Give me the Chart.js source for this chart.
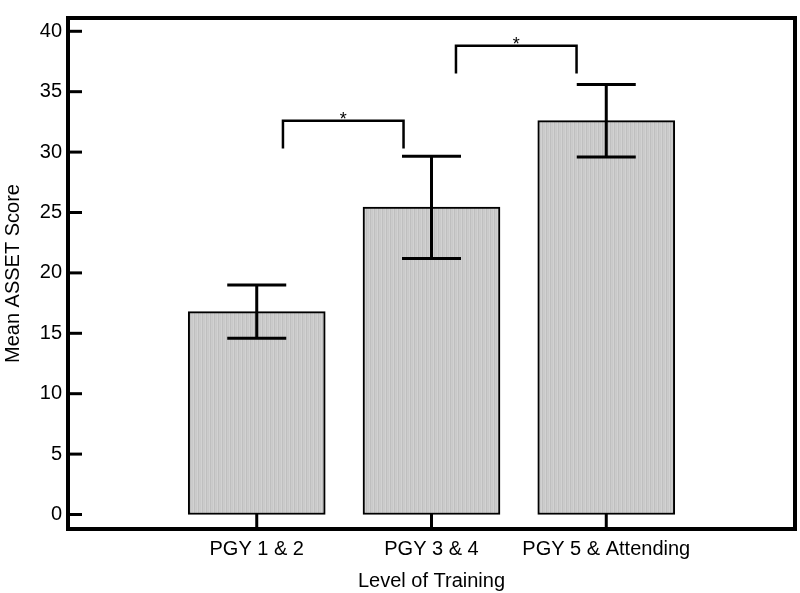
<!DOCTYPE html>
<html>
<head>
<meta charset="utf-8">
<script src="https://cdn.jsdelivr.net/npm/chart.js@4/dist/chart.umd.min.js"></script>
<style>
  body { margin: 0; background: #fff; }
  #wrap { width: 800px; height: 593px; }
</style>
</head>
<body>
<div id="wrap"><canvas id="asset"></canvas></div>
<script>
// data
const groups = ['PGY 1 & 2', 'PGY 3 & 4', 'PGY 5 & Attending'];
const groupPos = [1, 2, 3];
const meanScore = [16.8, 25.45, 32.6];
const errLow = [14.6, 21.2, 29.6];
const errHigh = [19.0, 29.65, 35.6];
const yTicks = [0, 5, 10, 15, 20, 25, 30, 35, 40];

// significance brackets (data units)
const brLeft = [1.15, 2.14];
const brRight = [1.84, 2.83];
const brTop = [32.6, 38.8];
const brFoot = [30.3, 36.5];
const brMark = ['*', '*'];

const FONT = "'Liberation Sans', Arial, sans-serif";

// finely striped grey fill like the original
function stripeFill() {
    const c = document.createElement('canvas');
    c.width = 4; c.height = 4;
    const g = c.getContext('2d');
    const cols = ['#c9c9c9', '#d2d2d2', '#bfbfbf', '#cccccc'];
    cols.forEach((col, i) => { g.fillStyle = col; g.fillRect(i, 0, 1, 4); });
    return g.createPattern(c, 'repeat');
}
const ctx0 = document.getElementById('asset').getContext('2d');

const extras = {
    id: 'extras',
    afterDatasetsDraw(chart) {
        const ctx = chart.ctx;
        const xs = chart.scales.x, ys = chart.scales.y;
        const a = chart.chartArea;
        ctx.save();
        ctx.strokeStyle = '#000';
        ctx.lineCap = 'butt';

        // error bars
        ctx.lineWidth = 3;
        groupPos.forEach((p, i) => {
            const px = xs.getPixelForValue(p);
            const lo = ys.getPixelForValue(errLow[i]);
            const hi = ys.getPixelForValue(errHigh[i]);
            ctx.beginPath();
            ctx.moveTo(px, lo); ctx.lineTo(px, hi);
            ctx.moveTo(px - 29.5, lo); ctx.lineTo(px + 29.5, lo);
            ctx.moveTo(px - 29.5, hi); ctx.lineTo(px + 29.5, hi);
            ctx.stroke();
        });

        // brackets
        ctx.lineWidth = 2.5;
        ctx.fillStyle = '#000';
        ctx.font = '18px ' + FONT;
        ctx.textAlign = 'center';
        ctx.textBaseline = 'alphabetic';
        brLeft.forEach((l, i) => {
            const x1 = xs.getPixelForValue(l), x2 = xs.getPixelForValue(brRight[i]);
            const yt = ys.getPixelForValue(brTop[i]), yf = ys.getPixelForValue(brFoot[i]);
            ctx.beginPath();
            ctx.moveTo(x1, yf); ctx.lineTo(x1, yt); ctx.lineTo(x2, yt); ctx.lineTo(x2, yf);
            ctx.stroke();
            ctx.fillText(brMark[i], (x1 + x2) / 2, yt + 4);
        });

        // inward ticks
        ctx.lineWidth = 3;
        yTicks.forEach(v => {
            const py = ys.getPixelForValue(v);
            ctx.beginPath(); ctx.moveTo(a.left, py); ctx.lineTo(a.left + 14, py); ctx.stroke();
        });
        groupPos.forEach(p => {
            const px = xs.getPixelForValue(p);
            ctx.beginPath(); ctx.moveTo(px, a.bottom); ctx.lineTo(px, a.bottom - 15); ctx.stroke();
        });

        // frame
        ctx.lineWidth = 4;
        ctx.strokeRect(a.left, a.top, a.right - a.left, a.bottom - a.top);
        ctx.restore();
    }
};

new Chart(ctx0, {
    type: 'bar',
    data: {
        datasets: [{
            data: meanScore.map((y, i) => ({ x: groupPos[i], y: y })),
            backgroundColor: stripeFill(),
            borderColor: '#000',
            borderWidth: 2,
            borderSkipped: false,
            barThickness: 137
        }]
    },
    options: {
        responsive: true,
        maintainAspectRatio: false,
        animation: false,
        layout: { padding: { top: 5, right: 5, left: 0, bottom: 0 } },
        plugins: { legend: { display: false }, tooltip: { enabled: false } },
        scales: {
            x: {
                type: 'linear',
                offset: false,
                min: -0.08,
                max: 4.08,
                afterBuildTicks: s => { s.ticks = groupPos.map(v => ({ value: v })); },
                afterFit: s => { s.height = 64; },
                grid: { display: false, drawTicks: false, offset: false },
                border: { display: false },
                ticks: {
                    padding: 8,
                    color: '#000',
                    font: { family: FONT, size: 20 },
                    callback: v => groups[groupPos.indexOf(v)]
                },
                title: {
                    display: true,
                    text: 'Level of Training',
                    color: '#000',
                    font: { family: FONT, size: 20 },
                    padding: { top: 1, bottom: 0 }
                }
            },
            y: {
                min: -1.2,
                max: 41.1,
                afterBuildTicks: s => { s.ticks = yTicks.map(v => ({ value: v })); },
                afterFit: s => { s.width = 68; },
                grid: { display: false, drawTicks: false },
                border: { display: false },
                ticks: {
                    padding: 6,
                    color: '#000',
                    font: { family: FONT, size: 20 }
                },
                title: {
                    display: true,
                    text: 'Mean ASSET Score',
                    color: '#000',
                    font: { family: FONT, size: 20 },
                    padding: { top: 1, bottom: 0 }
                }
            }
        }
    },
    plugins: [extras]
});
</script>
</body>
</html>
